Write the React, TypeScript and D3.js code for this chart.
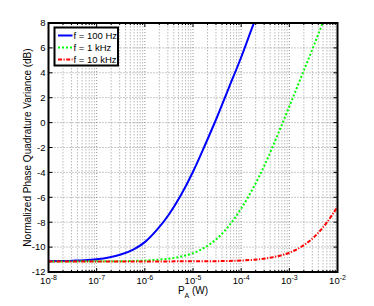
import React from "react";
import * as d3 from "d3";

const powerW = [1e-8, 1.778e-8, 3.162e-8, 5.623e-8, 1e-7, 1.778e-7, 3.162e-7, 5.623e-7, 1e-6, 1.778e-6, 3.162e-6, 5.623e-6, 1e-5, 1.778e-5, 3.162e-5, 5.623e-5, 1e-4, 1.778e-4, 3.162e-4, 5.623e-4, 1e-3, 1.778e-3, 3.162e-3, 5.623e-3, 1e-2];
const f100Hz = [-11.13, -11.12, -11.09, -11.05, -10.97, -10.83, -10.6, -10.22, -9.6, -8.62, -7.38, -5.82, -3.95, -1.8, 0.45, 2.85, 5.25, 7.85, 10.3, null, null, null, null, null, null];
const f1kHz = [-11.15, -11.15, -11.15, -11.14, -11.14, -11.14, -11.13, -11.11, -11.08, -11.02, -10.93, -10.76, -10.48, -10.02, -9.31, -8.27, -6.9, -5.25, -3.3, -1.05, 1.3, 3.7, 6.1, 8.6, null];
const f10kHz = [-11.15, -11.15, -11.15, -11.15, -11.15, -11.15, -11.15, -11.15, -11.15, -11.15, -11.15, -11.14, -11.14, -11.14, -11.13, -11.11, -11.08, -11.02, -10.92, -10.74, -10.45, -9.97, -9.24, -8.17, -6.76];
const seriesLabels = ["f = 100 Hz", "f = 1 kHz", "f = 10 kHz"];
const yTicks = [-12, -10, -8, -6, -4, -2, 0, 2, 4, 6, 8];
const xDecades = [-8, -7, -6, -5, -4, -3, -2];
const xLabel = "P";
const xLabelSub = "A";
const xLabelUnit = " (W)";
const yLabel = "Normalized Phase Quadrature Variance (dB)";

const W = 374, H = 306;
const L = 48.5, R = 337.5, T = 23, B = 272;
const FONT = "'Liberation Sans', Arial, Helvetica, sans-serif";

export default function App() {
  const x = d3.scaleLog().domain([1e-8, 1e-2]).range([L, R]);
  const y = d3.scaleLinear().domain([-12, 8]).range([B, T]);

  const series = [
    { vals: f100Hz, color: "#0000ff", dash: undefined as string | undefined },
    { vals: f1kHz, color: "#00ff00", dash: "2,2" },
    { vals: f10kHz, color: "#ff0000", dash: "4,1.5,1.2,1.5" },
  ];

  const line = d3
    .line<[number, number | null]>()
    .defined((d) => d[1] !== null)
    .x((d) => x(d[0]))
    .y((d) => y(d[1] as number))
    .curve(d3.curveMonotoneX);

  const minor: number[] = [];
  for (let d = -8; d < -2; d++) for (let m = 2; m <= 9; m++) minor.push(m * Math.pow(10, d));
  const majorInner = xDecades.slice(1, -1).map((d) => Math.pow(10, d));

  return (
    <svg width={W} height={H} style={{ position: "absolute", left: 0, top: 0, background: "#fff" }} fontFamily={FONT}>
      <rect x={0} y={0} width={W} height={H} fill="#fff" />
      <defs>
        <clipPath id="plotclip">
          <rect x={L} y={T} width={R - L} height={B - T} />
        </clipPath>
      </defs>
      {/* grid */}
      <g>
        {minor.map((v, i) => (
          <line key={"mn" + i} x1={x(v)} x2={x(v)} y1={T} y2={B} stroke="#aaa" strokeWidth={0.8} strokeDasharray="1.5,1.5" />
        ))}
        {majorInner.map((v, i) => (
          <line key={"mj" + i} x1={x(v)} x2={x(v)} y1={T} y2={B} stroke="#777" strokeWidth={0.8} strokeDasharray="1,2" />
        ))}
        {yTicks.slice(1, -1).map((v, i) => (
          <line key={"gy" + i} x1={L} x2={R} y1={y(v)} y2={y(v)} stroke="#777" strokeWidth={0.8} strokeDasharray="1,2" />
        ))}
      </g>
      {/* curves */}
      <g clipPath="url(#plotclip)">
        {series.map((s, i) => (
          <path
            key={i}
            d={line(powerW.map((p, j) => [p, s.vals[j]] as [number, number | null])) || ""}
            fill="none"
            stroke={s.color}
            strokeWidth={2}
            strokeDasharray={s.dash}
          />
        ))}
      </g>
      {/* ticks */}
      <g stroke="#000" strokeWidth={1}>
        {xDecades.map((d, i) => (
          <g key={"xt" + i}>
            <line x1={x(Math.pow(10, d))} x2={x(Math.pow(10, d))} y1={B} y2={B - 4} />
            <line x1={x(Math.pow(10, d))} x2={x(Math.pow(10, d))} y1={T} y2={T + 4} />
          </g>
        ))}
        {minor.map((v, i) => (
          <g key={"xm" + i}>
            <line x1={x(v)} x2={x(v)} y1={B} y2={B - 2} />
            <line x1={x(v)} x2={x(v)} y1={T} y2={T + 2} />
          </g>
        ))}
        {yTicks.map((v, i) => (
          <g key={"yt" + i}>
            <line x1={L} x2={L + 4} y1={y(v)} y2={y(v)} />
            <line x1={R} x2={R - 4} y1={y(v)} y2={y(v)} />
          </g>
        ))}
      </g>
      <rect x={L} y={T} width={R - L} height={B - T} fill="none" stroke="#000" strokeWidth={2} />
      {/* y tick labels */}
      {yTicks.map((v, i) => (
        <text key={"yl" + i} x={L - 3} y={y(v) + 3.3} fontSize={9.5} textAnchor="end" fill="#000">
          {String(v)}
        </text>
      ))}
      {/* x tick labels */}
      {xDecades.map((d, i) => (
        <text key={"xl" + i} x={x(Math.pow(10, d))} y={284} fontSize={9.5} textAnchor="middle" fill="#000">
          10
          <tspan fontSize={7} dy={-4}>
            {String(d)}
          </tspan>
        </text>
      ))}
      {/* axis labels */}
      <text x={(L + R) / 2} y={294} fontSize={10} textAnchor="middle" fill="#000">
        {xLabel}
        <tspan fontSize={7} dy={4}>{xLabelSub}</tspan>
        <tspan dy={-4}>{xLabelUnit}</tspan>
      </text>
      <text
        transform={`translate(31,${(T + B) / 2}) rotate(-90)`}
        fontSize={10}
        textAnchor="middle"
        fill="#000"
      >
        {yLabel}
      </text>
      {/* legend */}
      <g>
        <rect x={54.5} y={27.5} width={63.5} height={38} fill="#fff" stroke="#000" strokeWidth={2} />
        {series.map((s, i) => (
          <g key={"lg" + i}>
            <line x1={58} x2={72.5} y1={35.5 + i * 12} y2={35.5 + i * 12} stroke={s.color} strokeWidth={2} strokeDasharray={s.dash} />
            <text x={73.5} y={39 + i * 12} fontSize={9.5} fill="#000">
              {seriesLabels[i]}
            </text>
          </g>
        ))}
      </g>
    </svg>
  );
}
